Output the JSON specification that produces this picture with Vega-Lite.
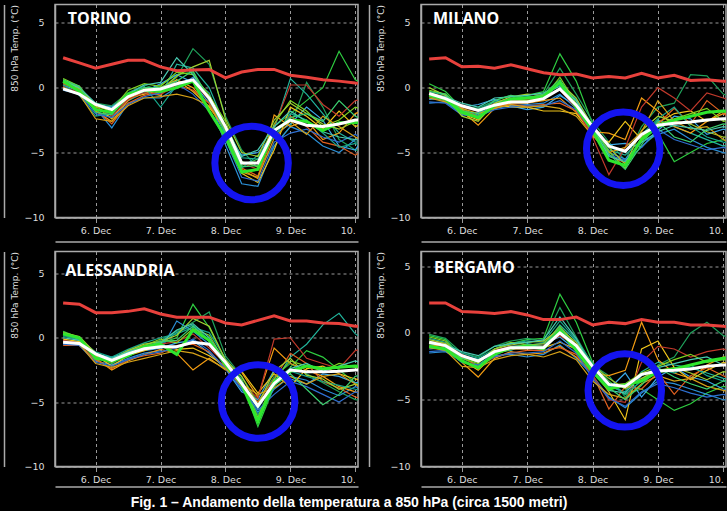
{
"$schema":"https://vega.github.io/schema/vega-lite/v6.json",
"background":"black",
"padding":{"left":3,"top":3.5,"right":0,"bottom":0},
"title":{"text":"Fig. 1 – Andamento della temperatura a 850 hPa (circa 1500 metri)","orient":"bottom","anchor":"middle","dx":-16,"offset":9,"font":"Liberation Sans","fontSize":14,"fontWeight":"bold","color":"white"},
"config":{"view":{"stroke":"#aaa","strokeWidth":1.5},
 "axis":{"labelColor":"#ddd","labelFont":"DejaVu Sans","labelFontSize":9.5,"titleColor":"#ddd","titleFont":"DejaVu Sans","titleFontSize":9,"titleFontWeight":"normal","domainColor":"#aaa","domainWidth":1.5,"gridColor":"#999","gridDash":[3,3],"gridWidth":1,"tickColor":"#999","labelFlush":false},
 "text":{"font":"Open Sans","fontSize":16,"fontWeight":"bold","color":"white","align":"left","baseline":"alphabetic"}},
"datasets":{
"TORINO":[
{"t":"2018-12-05T12:00","m1":0.6,"m2":0.3,"m3":0,"m4":-0.2,"m5":0.2,"m6":0.5,"m7":0.4,"m8":0.3,"m9":0.1,"m10":0.2,"m11":0.7,"m12":-0.1,"m13":0.4,"m14":0,"m15":0.5,"m16":0.6,"g":0.5,"w":-0.1,"r":2.3},
{"t":"2018-12-05T18:00","m1":0,"m2":-0.2,"m3":-0.4,"m4":-0.5,"m5":-0.3,"m6":0.1,"m7":0,"m8":-0.2,"m9":-0.4,"m10":-0.6,"m11":0.1,"m12":-0.5,"m13":-0.1,"m14":-0.5,"m15":0,"m16":0.1,"g":-0.3,"w":-0.5,"r":1.9},
{"t":"2018-12-06T00:00","m1":-1.6,"m2":-1.2,"m3":-1.8,"m4":-1.6,"m5":-1.3,"m6":-1.8,"m7":-1.4,"m8":-1.7,"m9":-1.5,"m10":-2.2,"m11":-1.5,"m12":-2.0,"m13":-1.3,"m14":-2.4,"m15":-1.2,"m16":-1.9,"g":-1.7,"w":-1.3,"r":1.5},
{"t":"2018-12-06T06:00","m1":-2.0,"m2":-1.4,"m3":-2.3,"m4":-3.1,"m5":-1.5,"m6":-2.6,"m7":-2.4,"m8":-2.8,"m9":-2.2,"m10":-2.0,"m11":-1.7,"m12":-2.3,"m13":-1.9,"m14":-2.6,"m15":-1.6,"m16":-2.1,"g":-1.9,"w":-1.7,"r":1.8},
{"t":"2018-12-06T12:00","m1":-0.8,"m2":-0.4,"m3":-1.0,"m4":-1.2,"m5":-0.6,"m6":-1.0,"m7":-0.8,"m8":-1.2,"m9":-0.9,"m10":-0.5,"m11":-0.2,"m12":-1.3,"m13":-0.7,"m14":-1.4,"m15":-0.5,"m16":-0.6,"g":-0.5,"w":-0.7,"r":2.1},
{"t":"2018-12-06T18:00","m1":-0.3,"m2":0.2,"m3":-0.4,"m4":-0.8,"m5":-0.3,"m6":-0.2,"m7":-0.5,"m8":-0.6,"m9":-0.4,"m10":0.1,"m11":0.3,"m12":-0.7,"m13":0,"m14":-0.8,"m15":0.2,"m16":0,"g":-0.2,"w":-0.2,"r":2.1},
{"t":"2018-12-07T00:00","m1":0.2,"m2":-0.2,"m3":-0.6,"m4":-0.8,"m5":0.3,"m6":-0.6,"m7":0,"m8":-0.3,"m9":-0.5,"m10":-1.5,"m11":0.1,"m12":-0.4,"m13":-0.2,"m14":-0.7,"m15":0.4,"m16":0,"g":-0.3,"w":-0.1,"r":1.6},
{"t":"2018-12-07T06:00","m1":1.0,"m2":0.8,"m3":1.8,"m4":0,"m5":1.0,"m6":0.6,"m7":0.6,"m8":0.2,"m9":0.1,"m10":0.2,"m11":1.2,"m12":0.3,"m13":0.9,"m14":-0.5,"m15":2.3,"m16":0.5,"g":0,"w":0.3,"r":1.3},
{"t":"2018-12-07T12:00","m1":1.2,"m2":3.0,"m3":1.5,"m4":0.8,"m5":0.4,"m6":0,"m7":-0.3,"m8":-0.2,"m9":0.5,"m10":0.6,"m11":1.0,"m12":-0.5,"m13":1.6,"m14":-0.8,"m15":1.0,"m16":1.3,"g":0.5,"w":0.6,"r":1.35},
{"t":"2018-12-07T18:00","m1":-1.0,"m2":1.8,"m3":0,"m4":-0.8,"m5":-1.2,"m6":-1.5,"m7":-1.5,"m8":-1.2,"m9":-1.0,"m10":-0.4,"m11":-0.6,"m12":-1.8,"m13":2.1,"m14":-1.4,"m15":-1.0,"m16":-0.9,"g":-1.8,"w":-0.8,"r":1.4},
{"t":"2018-12-08T00:00","m1":-3.5,"m2":-2.2,"m3":-3.0,"m4":-4.4,"m5":-3.6,"m6":-3.2,"m7":-3.0,"m8":-3.3,"m9":-3.1,"m10":-3.8,"m11":-2.6,"m12":-4.0,"m13":-2.4,"m14":-3.3,"m15":-3.0,"m16":-3.4,"g":-3.8,"w":-3.0,"r":0.75},
{"t":"2018-12-08T06:00","m1":-6.0,"m2":-4.8,"m3":-5.4,"m4":-7.4,"m5":-5.2,"m6":-6.3,"m7":-6.6,"m8":-6.2,"m9":-5.8,"m10":-6.2,"m11":-5.7,"m12":-6.9,"m13":-5.0,"m14":-6.5,"m15":-5.3,"m16":-6.1,"g":-6.5,"w":-5.8,"r":1.2},
{"t":"2018-12-08T12:00","m1":-5.5,"m2":-6.2,"m3":-5.5,"m4":-7.6,"m5":-5.0,"m6":-7.0,"m7":-7.3,"m8":-6.8,"m9":-6.3,"m10":-5.2,"m11":-6.1,"m12":-7.2,"m13":-5.3,"m14":-6.9,"m15":-4.8,"m16":-6.0,"g":-6.3,"w":-5.8,"r":1.4},
{"t":"2018-12-08T18:00","m1":-3.0,"m2":-4.5,"m3":-3.2,"m4":-4.5,"m5":-3.6,"m6":-2.1,"m7":-4.8,"m8":-3.5,"m9":-3.0,"m10":-3.8,"m11":-2.8,"m12":-4.2,"m13":-2.5,"m14":-3.9,"m15":-3.0,"m16":-3.4,"g":-3.3,"w":-3.3,"r":1.4},
{"t":"2018-12-09T00:00","m1":-2.0,"m2":-3.0,"m3":0.7,"m4":-3.0,"m5":-2.8,"m6":-3.0,"m7":-1.5,"m8":-2.2,"m9":0.2,"m10":-2.0,"m11":-1.0,"m12":-3.5,"m13":-1.2,"m14":-2.6,"m15":-1.8,"m16":-2.3,"g":-2.5,"w":-2.5,"r":0.95},
{"t":"2018-12-09T06:00","m1":-1.0,"m2":0.4,"m3":-0.5,"m4":-3.5,"m5":-1.5,"m6":-2.5,"m7":-2.2,"m8":-3.0,"m9":0.2,"m10":-2.5,"m11":-1.8,"m12":-3.2,"m13":-2.0,"m14":-3.6,"m15":-2.6,"m16":-2.0,"g":-2.6,"w":-2.9,"r":0.8},
{"t":"2018-12-09T12:00","m1":0,"m2":-1.5,"m3":-2.0,"m4":-4.5,"m5":-2.5,"m6":-4.0,"m7":-3.2,"m8":-4.2,"m9":-1.3,"m10":-3.5,"m11":-3.0,"m12":-3.8,"m13":-2.8,"m14":-2.2,"m15":-3.4,"m16":-2.6,"g":-3.3,"w":-3.0,"r":0.6},
{"t":"2018-12-09T18:00","m1":2.8,"m2":-4.0,"m3":-3.5,"m4":-5.0,"m5":-4.5,"m6":-3.5,"m7":-1.8,"m8":-4.5,"m9":-2.2,"m10":-4.6,"m11":-2.5,"m12":-4.2,"m13":-3.2,"m14":-3.0,"m15":-3.8,"m16":-1.0,"g":-2.7,"w":-2.8,"r":0.5},
{"t":"2018-12-10T00:00","m1":0.6,"m2":-4.8,"m3":-4.2,"m4":-4.0,"m5":-4.8,"m6":-2.0,"m7":-3.0,"m8":-5.2,"m9":-1.0,"m10":-4.3,"m11":-1.5,"m12":-3.6,"m13":-2.6,"m14":-3.8,"m15":-4.0,"m16":-2.2,"g":-2.7,"w":-2.5,"r":0.35},
{"t":"2018-12-10T06:00","m1":0,"m2":-5.0,"m3":-4.0,"m4":-3.5,"m5":-3.0,"m6":-1.5,"m7":-2.5,"m8":-4.5,"m9":-0.8,"m10":-4.8,"m11":-2.0,"m12":-4.3,"m13":-3.2,"m14":-4.5,"m15":-4.2,"m16":-2.8,"g":-2.6,"w":-2.5,"r":0.3}
],
"MILANO":[
{"t":"2018-12-05T12:00","m1":0.3,"m2":-0.6,"m3":-0.8,"m4":-1.2,"m5":-0.9,"m6":-0.4,"m7":-0.5,"m8":-0.7,"m9":-0.6,"m10":-0.3,"m11":-0.2,"m12":-1.1,"m13":0,"m14":-0.8,"m15":-0.5,"m16":-0.3,"g":-0.6,"w":-0.45,"r":2.2},
{"t":"2018-12-05T18:00","m1":-0.3,"m2":-0.9,"m3":-1.0,"m4":-1.1,"m5":-0.8,"m6":-0.7,"m7":-0.9,"m8":-1.0,"m9":-0.8,"m10":-0.6,"m11":-0.5,"m12":-1.2,"m13":-0.6,"m14":-1.1,"m15":-0.7,"m16":-0.5,"g":-0.9,"w":-0.85,"r":2.3},
{"t":"2018-12-06T00:00","m1":-1.6,"m2":-1.4,"m3":-1.9,"m4":-2.0,"m5":-1.5,"m6":-1.8,"m7":-2.0,"m8":-1.7,"m9":-1.5,"m10":-1.4,"m11":-1.7,"m12":-2.1,"m13":-2.2,"m14":-1.6,"m15":-1.2,"m16":-1.8,"g":-1.9,"w":-1.4,"r":1.6},
{"t":"2018-12-06T06:00","m1":-2.2,"m2":-1.6,"m3":-2.1,"m4":-1.9,"m5":-1.3,"m6":-2.9,"m7":-2.5,"m8":-2.2,"m9":-1.8,"m10":-1.7,"m11":-2.4,"m12":-2.2,"m13":-2.6,"m14":-2.0,"m15":-1.5,"m16":-2.0,"g":-2.3,"w":-1.75,"r":1.65},
{"t":"2018-12-06T12:00","m1":-1.2,"m2":-1.0,"m3":-1.4,"m4":-1.6,"m5":-0.9,"m6":-1.6,"m7":-1.3,"m8":-1.5,"m9":-1.2,"m10":-1.1,"m11":-1.3,"m12":-1.7,"m13":-1.2,"m14":-1.6,"m15":-0.8,"m16":-1.0,"g":-1.4,"w":-1.35,"r":1.5},
{"t":"2018-12-06T18:00","m1":-0.8,"m2":-0.6,"m3":-1.2,"m4":-1.4,"m5":-1.4,"m6":-1.2,"m7":-1.5,"m8":-1.3,"m9":-1.0,"m10":-0.9,"m11":-0.9,"m12":-1.5,"m13":-0.7,"m14":-1.3,"m15":-0.7,"m16":-0.6,"g":-0.9,"w":-1.1,"r":1.75},
{"t":"2018-12-07T00:00","m1":-0.6,"m2":-1.0,"m3":-0.8,"m4":-1.3,"m5":-1.7,"m6":-1.2,"m7":-1.5,"m8":-1.4,"m9":-0.9,"m10":-0.7,"m11":-1.0,"m12":-1.4,"m13":-0.5,"m14":-1.5,"m15":-0.6,"m16":-0.8,"g":-0.8,"w":-1.1,"r":1.45},
{"t":"2018-12-07T06:00","m1":-0.3,"m2":-0.5,"m3":-1.0,"m4":-1.2,"m5":-1.5,"m6":-1.0,"m7":-1.8,"m8":-1.3,"m9":-0.6,"m10":-0.7,"m11":-0.8,"m12":-1.4,"m13":-0.6,"m14":-1.4,"m15":-0.4,"m16":-0.5,"g":-0.7,"w":-0.85,"r":1.15},
{"t":"2018-12-07T12:00","m1":2.6,"m2":1.5,"m3":0.5,"m4":-0.5,"m5":-0.6,"m6":-0.8,"m7":-1.8,"m8":-1.2,"m9":-0.2,"m10":0.2,"m11":0.8,"m12":-1.0,"m13":0.4,"m14":-1.6,"m15":0.1,"m16":0.6,"g":0.4,"w":-0.1,"r":1.0},
{"t":"2018-12-07T18:00","m1":0.5,"m2":-0.5,"m3":-1.0,"m4":-1.6,"m5":-1.4,"m6":-1.9,"m7":-2.0,"m8":-1.8,"m9":-1.6,"m10":-0.9,"m11":-1.2,"m12":-1.7,"m13":-0.8,"m14":-2.2,"m15":-1.0,"m16":-1.3,"g":-1.5,"w":-1.35,"r":1.05},
{"t":"2018-12-08T00:00","m1":-2.8,"m2":-2.6,"m3":-3.2,"m4":-3.5,"m5":-3.3,"m6":-3.4,"m7":-3.6,"m8":-3.6,"m9":-3.8,"m10":-2.9,"m11":-3.0,"m12":-3.4,"m13":-3.0,"m14":-3.7,"m15":-3.1,"m16":-2.9,"g":-3.3,"w":-3.0,"r":0.75},
{"t":"2018-12-08T06:00","m1":-5.5,"m2":-4.2,"m3":-4.8,"m4":-5.0,"m5":-4.4,"m6":-3.5,"m7":-4.2,"m8":-5.2,"m9":-6.7,"m10":-4.6,"m11":-4.9,"m12":-5.2,"m13":-4.6,"m14":-5.0,"m15":-5.3,"m16":-5.1,"g":-5.6,"w":-4.5,"r":0.85},
{"t":"2018-12-08T12:00","m1":-6.0,"m2":-5.6,"m3":-5.2,"m4":-5.5,"m5":-4.3,"m6":-4.0,"m7":-2.6,"m8":-5.8,"m9":-4.6,"m10":-5.0,"m11":-6.2,"m12":-5.6,"m13":-5.9,"m14":-4.6,"m15":-5.7,"m16":-6.3,"g":-6.0,"w":-4.9,"r":0.75},
{"t":"2018-12-08T18:00","m1":-4.5,"m2":-3.0,"m3":-4.0,"m4":-4.2,"m5":-4.6,"m6":-0.8,"m7":-4.0,"m8":-4.1,"m9":-1.5,"m10":-3.6,"m11":-3.8,"m12":-4.6,"m13":-3.3,"m14":-3.4,"m15":-4.2,"m16":-4.4,"g":-4.0,"w":-3.6,"r":1.1},
{"t":"2018-12-09T00:00","m1":-3.5,"m2":-1.5,"m3":-2.5,"m4":-3.6,"m5":-3.3,"m6":-1.8,"m7":-2.7,"m8":-2.8,"m9":0,"m10":-2.4,"m11":-2.8,"m12":-3.2,"m13":-2.2,"m14":-1.0,"m15":-3.4,"m16":-2.6,"g":-3.0,"w":-2.9,"r":0.75},
{"t":"2018-12-09T06:00","m1":-5.7,"m2":-1.2,"m3":-3.0,"m4":-3.2,"m5":-2.2,"m6":-3.0,"m7":-2.0,"m8":-1.6,"m9":-0.8,"m10":-1.5,"m11":-2.4,"m12":-4.0,"m13":-2.6,"m14":-2.6,"m15":-2.9,"m16":-3.8,"g":-2.5,"w":-2.75,"r":0.95},
{"t":"2018-12-09T12:00","m1":-5.0,"m2":1.0,"m3":-3.5,"m4":-4.0,"m5":-2.4,"m6":-3.5,"m7":-1.8,"m8":-2.8,"m9":-1.8,"m10":-3.0,"m11":-2.0,"m12":-4.4,"m13":-2.8,"m14":-3.2,"m15":-3.1,"m16":-4.2,"g":-2.2,"w":-2.65,"r":0.55},
{"t":"2018-12-09T18:00","m1":-4.3,"m2":0.9,"m3":-4.0,"m4":-4.6,"m5":-3.6,"m6":-2.6,"m7":-2.6,"m8":-1.0,"m9":-0.4,"m10":-3.8,"m11":-1.6,"m12":-4.8,"m13":-3.4,"m14":-3.0,"m15":-3.3,"m16":-3.2,"g":-1.9,"w":-2.5,"r":0.6},
{"t":"2018-12-10T00:00","m1":-4.0,"m2":-0.5,"m3":-4.5,"m4":-5.0,"m5":-3.2,"m6":-2.0,"m7":-1.8,"m8":-2.0,"m9":-0.8,"m10":-4.2,"m11":-2.6,"m12":-4.6,"m13":-3.8,"m14":-4.0,"m15":-3.0,"m16":-2.8,"g":-1.8,"w":-2.4,"r":0.5},
{"t":"2018-12-10T06:00","m1":-4.5,"m2":-1.0,"m3":-4.2,"m4":-5.2,"m5":-3.5,"m6":-1.7,"m7":-1.9,"m8":-2.8,"m9":-1.2,"m10":-4.4,"m11":-2.4,"m12":-5.0,"m13":-3.9,"m14":-4.5,"m15":-3.3,"m16":-3.0,"g":-1.9,"w":-2.4,"r":0.45}
],
"ALESSANDRIA":[
{"t":"2018-12-05T12:00","m1":0.5,"m2":0.2,"m3":-0.2,"m4":-0.5,"m5":-0.4,"m6":-0.3,"m7":-0.1,"m8":-0.6,"m9":-0.2,"m10":0.1,"m11":0.3,"m12":-0.5,"m13":0.4,"m14":-0.3,"m15":0,"m16":0.3,"g":0.3,"w":-0.35,"r":2.7},
{"t":"2018-12-05T18:00","m1":0,"m2":-0.2,"m3":-0.3,"m4":-0.5,"m5":-0.5,"m6":-0.4,"m7":-0.3,"m8":-0.6,"m9":-0.4,"m10":-0.1,"m11":0,"m12":-0.6,"m13":0.1,"m14":-0.5,"m15":-0.2,"m16":-0.1,"g":0,"w":-0.45,"r":2.6},
{"t":"2018-12-06T00:00","m1":-1.5,"m2":-1.2,"m3":-1.4,"m4":-1.8,"m5":-1.3,"m6":-1.6,"m7":-1.4,"m8":-1.7,"m9":-1.5,"m10":-1.1,"m11":-1.3,"m12":-1.9,"m13":-1.2,"m14":-2.0,"m15":-1.3,"m16":-1.5,"g":-1.6,"w":-1.25,"r":1.95},
{"t":"2018-12-06T06:00","m1":-2.0,"m2":-1.6,"m3":-1.8,"m4":-2.1,"m5":-1.5,"m6":-2.5,"m7":-2.2,"m8":-2.4,"m9":-1.9,"m10":-1.5,"m11":-1.9,"m12":-2.2,"m13":-1.7,"m14":-2.3,"m15":-1.6,"m16":-1.7,"g":-1.8,"w":-1.75,"r":1.95},
{"t":"2018-12-06T12:00","m1":-1.3,"m2":-1.0,"m3":-1.4,"m4":-1.6,"m5":-1.2,"m6":-1.8,"m7":-1.4,"m8":-1.7,"m9":-1.3,"m10":-0.9,"m11":-1.1,"m12":-1.7,"m13":-1.0,"m14":-1.9,"m15":-1.1,"m16":-1.2,"g":-1.4,"w":-1.25,"r":2.05},
{"t":"2018-12-06T18:00","m1":-0.8,"m2":-0.6,"m3":-0.9,"m4":-1.2,"m5":-1.0,"m6":-1.3,"m7":-1.0,"m8":-1.4,"m9":-0.8,"m10":-0.4,"m11":-0.6,"m12":-1.3,"m13":-0.5,"m14":-1.6,"m15":-0.7,"m16":-0.7,"g":-0.7,"w":-0.85,"r":2.25},
{"t":"2018-12-07T00:00","m1":-0.4,"m2":-0.2,"m3":-0.5,"m4":-1.0,"m5":-0.8,"m6":-0.9,"m7":-0.6,"m8":-1.2,"m9":-0.5,"m10":0,"m11":-0.1,"m12":-1.1,"m13":-0.3,"m14":-1.3,"m15":-0.4,"m16":-0.3,"g":-0.5,"w":-0.7,"r":1.85},
{"t":"2018-12-07T06:00","m1":0,"m2":0.5,"m3":0.4,"m4":1.3,"m5":-0.4,"m6":-1.2,"m7":-0.9,"m8":-0.6,"m9":-0.3,"m10":0.3,"m11":-0.4,"m12":-0.8,"m13":0.2,"m14":-1.0,"m15":0.6,"m16":-0.2,"g":-1.3,"w":-0.7,"r":1.6},
{"t":"2018-12-07T12:00","m1":2.6,"m2":1.2,"m3":1.0,"m4":0.5,"m5":-0.2,"m6":-2.5,"m7":-0.8,"m8":-0.5,"m9":0.3,"m10":0.8,"m11":0.7,"m12":-0.1,"m13":1.5,"m14":-1.2,"m15":1.1,"m16":0.9,"g":0.6,"w":-0.35,"r":1.6},
{"t":"2018-12-07T18:00","m1":0.8,"m2":2.0,"m3":-0.2,"m4":-0.5,"m5":-1.2,"m6":-1.6,"m7":-1.4,"m8":-1.1,"m9":-0.8,"m10":0.4,"m11":0.2,"m12":-1.0,"m13":0.9,"m14":-1.7,"m15":0,"m16":-0.3,"g":-0.2,"w":-0.5,"r":1.6},
{"t":"2018-12-08T00:00","m1":-1.8,"m2":-1.4,"m3":-2.0,"m4":-2.2,"m5":-2.4,"m6":-2.5,"m7":-2.2,"m8":-2.3,"m9":-2.0,"m10":-1.6,"m11":-1.9,"m12":-2.4,"m13":-1.7,"m14":-2.4,"m15":-1.9,"m16":-2.0,"g":-2.1,"w":-1.9,"r":1.15},
{"t":"2018-12-08T06:00","m1":-3.4,"m2":-3.0,"m3":-3.6,"m4":-3.9,"m5":-4.2,"m6":-2.7,"m7":-2.6,"m8":-3.8,"m9":-3.5,"m10":-3.2,"m11":-3.3,"m12":-4.0,"m13":-3.0,"m14":-3.6,"m15":-3.4,"m16":-3.7,"g":-3.6,"w":-3.55,"r":1.0},
{"t":"2018-12-08T12:00","m1":-6.9,"m2":-5.0,"m3":-5.5,"m4":-5.8,"m5":-4.8,"m6":-4.6,"m7":-4.3,"m8":-5.0,"m9":-4.7,"m10":-6.0,"m11":-6.2,"m12":-5.6,"m13":-5.2,"m14":-4.4,"m15":-5.4,"m16":-6.4,"g":-6.5,"w":-5.3,"r":1.35},
{"t":"2018-12-08T18:00","m1":-3.8,"m2":-3.0,"m3":-3.5,"m4":-4.0,"m5":-2.5,"m6":-0.8,"m7":-2.8,"m8":-3.2,"m9":-0.1,"m10":-3.6,"m11":-3.2,"m12":-4.4,"m13":-2.6,"m14":-3.9,"m15":-3.3,"m16":-3.7,"g":-3.4,"w":-3.55,"r":1.7},
{"t":"2018-12-09T00:00","m1":-2.3,"m2":-2.0,"m3":-1.5,"m4":-3.0,"m5":-3.2,"m6":-2.0,"m7":-3.8,"m8":-1.2,"m9":0,"m10":-2.6,"m11":-1.8,"m12":-3.4,"m13":-1.6,"m14":-3.0,"m15":-2.4,"m16":-2.8,"g":-2.6,"w":-2.5,"r":1.3},
{"t":"2018-12-09T06:00","m1":-1.0,"m2":-2.8,"m3":-0.5,"m4":-3.3,"m5":-3.6,"m6":-2.5,"m7":-2.4,"m8":-2.0,"m9":-1.6,"m10":-3.0,"m11":-2.2,"m12":-3.8,"m13":-2.9,"m14":-3.6,"m15":-2.0,"m16":-4.0,"g":-2.2,"w":-2.65,"r":1.3},
{"t":"2018-12-09T12:00","m1":-1.5,"m2":-3.5,"m3":1.0,"m4":-4.0,"m5":-2.8,"m6":-3.0,"m7":-2.2,"m8":-3.4,"m9":-2.0,"m10":-3.4,"m11":-2.6,"m12":-4.4,"m13":-3.2,"m14":-3.0,"m15":-2.6,"m16":-5.2,"g":-2.4,"w":-2.65,"r":1.15},
{"t":"2018-12-09T18:00","m1":-2.5,"m2":-4.2,"m3":1.9,"m4":-4.5,"m5":-3.0,"m6":-3.8,"m7":-2.8,"m8":-3.9,"m9":-2.4,"m10":-3.7,"m11":-2.0,"m12":-5.0,"m13":-4.0,"m14":-2.8,"m15":-2.2,"m16":-4.4,"g":-2.3,"w":-2.6,"r":1.1},
{"t":"2018-12-10T00:00","m1":-3.5,"m2":-4.8,"m3":0.3,"m4":-3.8,"m5":-3.5,"m6":-4.2,"m7":-3.2,"m8":-4.6,"m9":-1.0,"m10":-4.0,"m11":-2.3,"m12":-4.2,"m13":-3.6,"m14":-3.6,"m15":-1.8,"m16":-3.0,"g":-2.2,"w":-2.5,"r":0.9},
{"t":"2018-12-10T06:00","m1":-3.8,"m2":-5.0,"m3":-0.5,"m4":-4.2,"m5":-3.3,"m6":-4.5,"m7":-3.5,"m8":-4.9,"m9":-0.6,"m10":-4.3,"m11":-2.5,"m12":-4.6,"m13":-3.9,"m14":-4.6,"m15":-2.2,"m16":-2.7,"g":-2.3,"w":-2.5,"r":0.85}
],
"BERGAMO":[
{"t":"2018-12-05T12:00","m1":-0.2,"m2":-0.1,"m3":-0.8,"m4":-1.5,"m5":-1.2,"m6":-0.9,"m7":-0.7,"m8":-1.0,"m9":-0.6,"m10":-0.4,"m11":-0.3,"m12":-1.4,"m13":-0.5,"m14":-1.1,"m15":-0.8,"m16":-0.6,"g":-1.0,"w":-0.7,"r":2.25},
{"t":"2018-12-05T18:00","m1":-0.5,"m2":-0.4,"m3":-1.0,"m4":-1.4,"m5":-1.1,"m6":-1.0,"m7":-0.9,"m8":-1.2,"m9":-0.8,"m10":-0.7,"m11":-0.6,"m12":-1.3,"m13":-0.8,"m14":-1.3,"m15":-0.9,"m16":-1.0,"g":-1.2,"w":-0.95,"r":2.25},
{"t":"2018-12-06T00:00","m1":-1.8,"m2":-1.5,"m3":-1.9,"m4":-2.1,"m5":-1.7,"m6":-2.2,"m7":-2.0,"m8":-1.8,"m9":-1.6,"m10":-1.5,"m11":-1.9,"m12":-2.2,"m13":-1.7,"m14":-2.5,"m15":-1.4,"m16":-1.9,"g":-2.1,"w":-1.7,"r":1.6},
{"t":"2018-12-06T06:00","m1":-2.2,"m2":-1.8,"m3":-2.4,"m4":-2.6,"m5":-2.0,"m6":-3.3,"m7":-2.8,"m8":-2.5,"m9":-2.1,"m10":-1.9,"m11":-2.3,"m12":-2.4,"m13":-2.2,"m14":-2.6,"m15":-1.7,"m16":-2.0,"g":-2.6,"w":-2.1,"r":1.55},
{"t":"2018-12-06T12:00","m1":-1.2,"m2":-1.0,"m3":-1.5,"m4":-1.7,"m5":-1.4,"m6":-1.9,"m7":-1.6,"m8":-1.8,"m9":-1.3,"m10":-1.2,"m11":-1.2,"m12":-1.8,"m13":-1.2,"m14":-2.0,"m15":-1.0,"m16":-1.4,"g":-1.6,"w":-1.4,"r":1.45},
{"t":"2018-12-06T18:00","m1":-0.8,"m2":-0.6,"m3":-1.3,"m4":-1.6,"m5":-1.0,"m6":-1.4,"m7":-1.2,"m8":-1.5,"m9":-1.0,"m10":-0.8,"m11":-0.7,"m12":-1.5,"m13":-0.9,"m14":-1.7,"m15":-0.8,"m16":-1.1,"g":-1.1,"w":-1.1,"r":1.6},
{"t":"2018-12-07T00:00","m1":-0.5,"m2":-0.4,"m3":-0.8,"m4":-1.8,"m5":-0.9,"m6":-1.6,"m7":-1.2,"m8":-1.3,"m9":-1.0,"m10":-0.6,"m11":-0.9,"m12":-1.5,"m13":-0.7,"m14":-1.6,"m15":-0.7,"m16":-0.9,"g":-1.0,"w":-1.1,"r":1.35},
{"t":"2018-12-07T06:00","m1":-0.4,"m2":-0.6,"m3":-1.0,"m4":-1.6,"m5":-0.8,"m6":-1.5,"m7":-1.1,"m8":-1.3,"m9":-0.9,"m10":-0.7,"m11":-0.8,"m12":-1.4,"m13":-0.6,"m14":-1.8,"m15":-0.5,"m16":-1.0,"g":-1.2,"w":-1.1,"r":1.0},
{"t":"2018-12-07T12:00","m1":2.9,"m2":1.9,"m3":0.6,"m4":-0.9,"m5":-0.3,"m6":-1.0,"m7":-0.7,"m8":-1.1,"m9":-0.2,"m10":0.9,"m11":0.5,"m12":-0.6,"m13":0.3,"m14":-1.4,"m15":1.2,"m16":0.4,"g":0.2,"w":0,"r":1.0},
{"t":"2018-12-07T18:00","m1":0.8,"m2":-0.3,"m3":-0.6,"m4":-1.9,"m5":-1.3,"m6":-1.8,"m7":-1.2,"m8":-1.6,"m9":-1.0,"m10":-0.5,"m11":-0.9,"m12":-1.5,"m13":-0.7,"m14":-2.0,"m15":-0.4,"m16":-1.1,"g":-1.3,"w":-0.95,"r":1.2},
{"t":"2018-12-08T00:00","m1":-2.2,"m2":-2.4,"m3":-2.6,"m4":-3.2,"m5":-2.9,"m6":-3.0,"m7":-2.8,"m8":-3.1,"m9":-3.2,"m10":-2.3,"m11":-2.6,"m12":-3.4,"m13":-2.4,"m14":-3.6,"m15":-2.7,"m16":-2.8,"g":-2.9,"w":-2.5,"r":0.6},
{"t":"2018-12-08T06:00","m1":-3.6,"m2":-3.2,"m3":-4.0,"m4":-4.8,"m5":-4.2,"m6":-3.2,"m7":-4.4,"m8":-5.7,"m9":-5.0,"m10":-3.8,"m11":-3.9,"m12":-4.9,"m13":-3.4,"m14":-4.6,"m15":-4.3,"m16":-4.1,"g":-4.2,"w":-3.85,"r":0.8},
{"t":"2018-12-08T12:00","m1":-4.6,"m2":-4.8,"m3":-4.4,"m4":-5.6,"m5":-3.0,"m6":-2.8,"m7":-6.5,"m8":-4.0,"m9":-5.2,"m10":-4.6,"m11":-3.8,"m12":-5.5,"m13":-4.2,"m14":-4.9,"m15":-4.5,"m16":-5.0,"g":-3.9,"w":-4.0,"r":0.7},
{"t":"2018-12-08T18:00","m1":-4.2,"m2":-3.5,"m3":-2.9,"m4":-4.5,"m5":-4.8,"m6":0.8,"m7":-1.2,"m8":-4.2,"m9":-2.2,"m10":-3.6,"m11":-3.0,"m12":-4.4,"m13":-3.4,"m14":-3.8,"m15":-3.2,"m16":-3.9,"g":-3.6,"w":-3.1,"r":1.0},
{"t":"2018-12-09T00:00","m1":-5.0,"m2":-2.4,"m3":-2.2,"m4":-3.6,"m5":-3.3,"m6":-2.0,"m7":-0.6,"m8":-3.0,"m9":-1.0,"m10":-2.7,"m11":-2.5,"m12":-3.8,"m13":-2.8,"m14":-3.2,"m15":-2.6,"m16":-2.6,"g":-2.9,"w":-2.85,"r":0.8},
{"t":"2018-12-09T06:00","m1":-5.8,"m2":-1.8,"m3":-2.4,"m4":-3.8,"m5":-2.6,"m6":-3.0,"m7":-2.6,"m8":-4.6,"m9":-1.2,"m10":-3.0,"m11":-2.0,"m12":-4.1,"m13":-2.6,"m14":-3.6,"m15":-2.3,"m16":-3.3,"g":-2.7,"w":-2.8,"r":0.8},
{"t":"2018-12-09T12:00","m1":-5.3,"m2":0,"m3":-2.6,"m4":-4.2,"m5":-3.3,"m6":-3.4,"m7":-3.5,"m8":-3.2,"m9":-1.8,"m10":-2.4,"m11":-1.6,"m12":-4.5,"m13":-3.0,"m14":-3.4,"m15":-2.0,"m16":-3.8,"g":-2.4,"w":-2.7,"r":0.6},
{"t":"2018-12-09T18:00","m1":-4.5,"m2":0.8,"m3":-3.0,"m4":-4.6,"m5":-3.6,"m6":-2.4,"m7":-2.8,"m8":-2.6,"m9":-1.4,"m10":-3.2,"m11":-2.2,"m12":-4.8,"m13":-3.5,"m14":-4.0,"m15":-1.8,"m16":-4.2,"g":-2.1,"w":-2.5,"r":0.6},
{"t":"2018-12-10T00:00","m1":-4.0,"m2":-0.2,"m3":-3.4,"m4":-5.0,"m5":-4.2,"m6":-1.8,"m7":-2.2,"m8":-3.2,"m9":-1.2,"m10":-3.6,"m11":-2.0,"m12":-4.6,"m13":-2.9,"m14":-4.3,"m15":-2.4,"m16":-3.6,"g":-1.9,"w":-2.4,"r":0.5},
{"t":"2018-12-10T06:00","m1":-4.2,"m2":-0.5,"m3":-3.6,"m4":-5.0,"m5":-4.4,"m6":-2.0,"m7":-2.6,"m8":-3.8,"m9":-1.6,"m10":-4.0,"m11":-2.1,"m12":-4.9,"m13":-3.1,"m14":-4.6,"m15":-2.7,"m16":-3.4,"g":-1.8,"w":-2.4,"r":0.45}
],
"circ":[
{"c":"TORINO","t":"2018-12-08T09:40","v":-5.8},
{"c":"MILANO","t":"2018-12-08T11:15","v":-4.7},
{"c":"ALESSANDRIA","t":"2018-12-08T12:05","v":-4.95},
{"c":"BERGAMO","t":"2018-12-08T11:50","v":-4.3}
]
},
"vconcat":[
{"hconcat":[
{"width":303,"height":213,"data":{"name":"TORINO"},
 "resolve":{"axis":{"x":"independent","y":"independent"}},
 "layer":[
  {"transform":[{"fold":["m1","m2","m3","m4","m5","m6","m7","m8","m9","m10","m11","m12","m13","m14","m15","m16"]}],
   "mark":{"type":"line","strokeWidth":1.2,"clip":true},
   "encoding":{
    "x":{"field":"t","type":"temporal","scale":{"domain":[{"year":2018,"month":12,"date":5,"hours":9},{"year":2018,"month":12,"date":10,"hours":1}]},
         "axis":{"values":[{"year":2018,"month":12,"date":6},{"year":2018,"month":12,"date":7},{"year":2018,"month":12,"date":8},{"year":2018,"month":12,"date":9},{"year":2018,"month":12,"date":10}],
          "labelExpr":"date(datum.value)==10 ? '10.' : timeFormat(datum.value, '%-d. %b')",
          "labelAlign":{"condition":{"test":"date(datum.value)==10","value":"right"},"value":"center"},
          "title":null,"grid":true,"ticks":true,"tickSize":5,"labelPadding":3,"labelOverlap":false}},
    "y":{"field":"value","type":"quantitative","scale":{"domain":[-10,6.4],"nice":false,"zero":false},
         "axis":{"values":[-10,-5,0,5],"title":"850 hPa Temp. (°C)","titleAnchor":"end","titlePadding":4,"ticks":false,"labelPadding":11,"grid":true}},
    "color":{"field":"key","type":"nominal","legend":null,
      "scale":{"domain":["m1","m2","m3","m4","m5","m6","m7","m8","m9","m10","m11","m12","m13","m14","m15","m16"],
               "range":["#2ecc40","#1fa05a","#21b39b","#2b8fd6","#3aa8e8","#f39c12","#f0c419","#e06020","#c0392b","#17a589","#7ed321","#2e6fd0","#a0d030","#d4a017","#48c9b0","#3cd070"]}}}},
  {"mark":{"type":"line","strokeWidth":3,"color":"#2ee62e","clip":true},
   "encoding":{"x":{"field":"t","type":"temporal","axis":null},"y":{"field":"g","type":"quantitative","axis":null}}},
  {"mark":{"type":"line","strokeWidth":3,"color":"white","clip":true},
   "encoding":{"x":{"field":"t","type":"temporal","axis":null},"y":{"field":"w","type":"quantitative","axis":null}}},
  {"mark":{"type":"line","strokeWidth":3,"color":"#e8413c","clip":true},
   "encoding":{"x":{"field":"t","type":"temporal","axis":{"orient":"bottom","offset":24,"domain":true,"labels":false,"ticks":false,"grid":false,"title":null}},
               "y":{"field":"r","type":"quantitative","axis":{"orient":"left","offset":51,"domain":true,"labels":false,"ticks":false,"grid":false,"title":null}}}},
  {"data":{"name":"circ"},"transform":[{"filter":"datum.c==='TORINO'"}],
   "mark":{"type":"point","shape":"circle","filled":false,"size":5400,"stroke":"#1414f0","strokeWidth":7,"opacity":1},
   "encoding":{"x":{"field":"t","type":"temporal","axis":null},"y":{"field":"v","type":"quantitative","axis":null}}},
  {"data":{"values":[{}]},"mark":{"type":"text"},
   "encoding":{"x":{"datum":{"year":2018,"month":12,"date":5,"hours":13,"minutes":40},"type":"temporal","axis":null},"y":{"datum":4.87,"type":"quantitative","axis":null},"text":{"value":"TORINO"}}}
 ]},
{"width":305,"height":213,"data":{"name":"MILANO"},
 "resolve":{"axis":{"x":"independent","y":"independent"}},
 "layer":[
  {"transform":[{"fold":["m1","m2","m3","m4","m5","m6","m7","m8","m9","m10","m11","m12","m13","m14","m15","m16"]}],
   "mark":{"type":"line","strokeWidth":1.2,"clip":true},
   "encoding":{
    "x":{"field":"t","type":"temporal","scale":{"domain":[{"year":2018,"month":12,"date":5,"hours":9},{"year":2018,"month":12,"date":10,"hours":1}]},
         "axis":{"values":[{"year":2018,"month":12,"date":6},{"year":2018,"month":12,"date":7},{"year":2018,"month":12,"date":8},{"year":2018,"month":12,"date":9},{"year":2018,"month":12,"date":10}],
          "labelExpr":"date(datum.value)==10 ? '10.' : timeFormat(datum.value, '%-d. %b')",
          "labelAlign":{"condition":{"test":"date(datum.value)==10","value":"right"},"value":"center"},
          "title":null,"grid":true,"ticks":true,"tickSize":5,"labelPadding":3,"labelOverlap":false}},
    "y":{"field":"value","type":"quantitative","scale":{"domain":[-10,6.4],"nice":false,"zero":false},
         "axis":{"values":[-10,-5,0,5],"title":"850 hPa Temp. (°C)","titleAnchor":"end","titlePadding":4,"ticks":false,"labelPadding":11,"grid":true}},
    "color":{"field":"key","type":"nominal","legend":null,
      "scale":{"domain":["m1","m2","m3","m4","m5","m6","m7","m8","m9","m10","m11","m12","m13","m14","m15","m16"],
               "range":["#2ecc40","#1fa05a","#21b39b","#2b8fd6","#3aa8e8","#f39c12","#f0c419","#e06020","#c0392b","#17a589","#7ed321","#2e6fd0","#a0d030","#d4a017","#48c9b0","#3cd070"]}}}},
  {"mark":{"type":"line","strokeWidth":3,"color":"#2ee62e","clip":true},
   "encoding":{"x":{"field":"t","type":"temporal","axis":null},"y":{"field":"g","type":"quantitative","axis":null}}},
  {"mark":{"type":"line","strokeWidth":3,"color":"white","clip":true},
   "encoding":{"x":{"field":"t","type":"temporal","axis":null},"y":{"field":"w","type":"quantitative","axis":null}}},
  {"mark":{"type":"line","strokeWidth":3,"color":"#e8413c","clip":true},
   "encoding":{"x":{"field":"t","type":"temporal","axis":{"orient":"bottom","offset":24,"domain":true,"labels":false,"ticks":false,"grid":false,"title":null}},
               "y":{"field":"r","type":"quantitative","axis":{"orient":"left","offset":52,"domain":true,"labels":false,"ticks":false,"grid":false,"title":null}}}},
  {"data":{"name":"circ"},"transform":[{"filter":"datum.c==='MILANO'"}],
   "mark":{"type":"point","shape":"circle","filled":false,"size":5400,"stroke":"#1414f0","strokeWidth":7,"opacity":1},
   "encoding":{"x":{"field":"t","type":"temporal","axis":null},"y":{"field":"v","type":"quantitative","axis":null}}},
  {"data":{"values":[{}]},"mark":{"type":"text"},
   "encoding":{"x":{"datum":{"year":2018,"month":12,"date":5,"hours":13,"minutes":25},"type":"temporal","axis":null},"y":{"datum":4.87,"type":"quantitative","axis":null},"text":{"value":"MILANO"}}}
 ]}
],"spacing":9},
{"hconcat":[
{"width":303,"height":215,"data":{"name":"ALESSANDRIA"},
 "resolve":{"axis":{"x":"independent","y":"independent"}},
 "layer":[
  {"transform":[{"fold":["m1","m2","m3","m4","m5","m6","m7","m8","m9","m10","m11","m12","m13","m14","m15","m16"]}],
   "mark":{"type":"line","strokeWidth":1.2,"clip":true},
   "encoding":{
    "x":{"field":"t","type":"temporal","scale":{"domain":[{"year":2018,"month":12,"date":5,"hours":9},{"year":2018,"month":12,"date":10,"hours":1}]},
         "axis":{"values":[{"year":2018,"month":12,"date":6},{"year":2018,"month":12,"date":7},{"year":2018,"month":12,"date":8},{"year":2018,"month":12,"date":9},{"year":2018,"month":12,"date":10}],
          "labelExpr":"date(datum.value)==10 ? '10.' : timeFormat(datum.value, '%-d. %b')",
          "labelAlign":{"condition":{"test":"date(datum.value)==10","value":"right"},"value":"center"},
          "title":null,"grid":true,"ticks":true,"tickSize":5,"labelPadding":3,"labelOverlap":false}},
    "y":{"field":"value","type":"quantitative","scale":{"domain":[-10,6.7],"nice":false,"zero":false},
         "axis":{"values":[-10,-5,0,5],"title":"850 hPa Temp. (°C)","titleAnchor":"end","titlePadding":4,"ticks":false,"labelPadding":11,"grid":true}},
    "color":{"field":"key","type":"nominal","legend":null,
      "scale":{"domain":["m1","m2","m3","m4","m5","m6","m7","m8","m9","m10","m11","m12","m13","m14","m15","m16"],
               "range":["#2ecc40","#1fa05a","#21b39b","#2b8fd6","#3aa8e8","#f39c12","#f0c419","#e06020","#c0392b","#17a589","#7ed321","#2e6fd0","#a0d030","#d4a017","#48c9b0","#3cd070"]}}}},
  {"mark":{"type":"line","strokeWidth":3,"color":"#2ee62e","clip":true},
   "encoding":{"x":{"field":"t","type":"temporal","axis":null},"y":{"field":"g","type":"quantitative","axis":null}}},
  {"mark":{"type":"line","strokeWidth":3,"color":"white","clip":true},
   "encoding":{"x":{"field":"t","type":"temporal","axis":null},"y":{"field":"w","type":"quantitative","axis":null}}},
  {"mark":{"type":"line","strokeWidth":3,"color":"#e8413c","clip":true},
   "encoding":{"x":{"field":"t","type":"temporal","axis":{"orient":"bottom","offset":20,"domain":true,"labels":false,"ticks":false,"grid":false,"title":null}},
               "y":{"field":"r","type":"quantitative","axis":{"orient":"left","offset":51,"domain":true,"labels":false,"ticks":false,"grid":false,"title":null}}}},
  {"data":{"name":"circ"},"transform":[{"filter":"datum.c==='ALESSANDRIA'"}],
   "mark":{"type":"point","shape":"circle","filled":false,"size":5400,"stroke":"#1414f0","strokeWidth":7,"opacity":1},
   "encoding":{"x":{"field":"t","type":"temporal","axis":null},"y":{"field":"v","type":"quantitative","axis":null}}},
  {"data":{"values":[{}]},"mark":{"type":"text"},
   "encoding":{"x":{"datum":{"year":2018,"month":12,"date":5,"hours":12,"minutes":45},"type":"temporal","axis":null},"y":{"datum":4.82,"type":"quantitative","axis":null},"text":{"value":"ALESSANDRIA"}}}
 ]},
{"width":305,"height":215,"data":{"name":"BERGAMO"},
 "resolve":{"axis":{"x":"independent","y":"independent"}},
 "layer":[
  {"transform":[{"fold":["m1","m2","m3","m4","m5","m6","m7","m8","m9","m10","m11","m12","m13","m14","m15","m16"]}],
   "mark":{"type":"line","strokeWidth":1.2,"clip":true},
   "encoding":{
    "x":{"field":"t","type":"temporal","scale":{"domain":[{"year":2018,"month":12,"date":5,"hours":9},{"year":2018,"month":12,"date":10,"hours":1}]},
         "axis":{"values":[{"year":2018,"month":12,"date":6},{"year":2018,"month":12,"date":7},{"year":2018,"month":12,"date":8},{"year":2018,"month":12,"date":9},{"year":2018,"month":12,"date":10}],
          "labelExpr":"date(datum.value)==10 ? '10.' : timeFormat(datum.value, '%-d. %b')",
          "labelAlign":{"condition":{"test":"date(datum.value)==10","value":"right"},"value":"center"},
          "title":null,"grid":true,"ticks":true,"tickSize":5,"labelPadding":3,"labelOverlap":false}},
    "y":{"field":"value","type":"quantitative","scale":{"domain":[-10,6.1],"nice":false,"zero":false},
         "axis":{"values":[-10,-5,0,5],"title":"850 hPa Temp. (°C)","titleAnchor":"end","titlePadding":4,"ticks":false,"labelPadding":11,"grid":true}},
    "color":{"field":"key","type":"nominal","legend":null,
      "scale":{"domain":["m1","m2","m3","m4","m5","m6","m7","m8","m9","m10","m11","m12","m13","m14","m15","m16"],
               "range":["#2ecc40","#1fa05a","#21b39b","#2b8fd6","#3aa8e8","#f39c12","#f0c419","#e06020","#c0392b","#17a589","#7ed321","#2e6fd0","#a0d030","#d4a017","#48c9b0","#3cd070"]}}}},
  {"mark":{"type":"line","strokeWidth":3,"color":"#2ee62e","clip":true},
   "encoding":{"x":{"field":"t","type":"temporal","axis":null},"y":{"field":"g","type":"quantitative","axis":null}}},
  {"mark":{"type":"line","strokeWidth":3,"color":"white","clip":true},
   "encoding":{"x":{"field":"t","type":"temporal","axis":null},"y":{"field":"w","type":"quantitative","axis":null}}},
  {"mark":{"type":"line","strokeWidth":3,"color":"#e8413c","clip":true},
   "encoding":{"x":{"field":"t","type":"temporal","axis":{"orient":"bottom","offset":20,"domain":true,"labels":false,"ticks":false,"grid":false,"title":null}},
               "y":{"field":"r","type":"quantitative","axis":{"orient":"left","offset":52,"domain":true,"labels":false,"ticks":false,"grid":false,"title":null}}}},
  {"data":{"name":"circ"},"transform":[{"filter":"datum.c==='BERGAMO'"}],
   "mark":{"type":"point","shape":"circle","filled":false,"size":5400,"stroke":"#1414f0","strokeWidth":7,"opacity":1},
   "encoding":{"x":{"field":"t","type":"temporal","axis":null},"y":{"field":"v","type":"quantitative","axis":null}}},
  {"data":{"values":[{}]},"mark":{"type":"text"},
   "encoding":{"x":{"datum":{"year":2018,"month":12,"date":5,"hours":13,"minutes":45},"type":"temporal","axis":null},"y":{"datum":4.47,"type":"quantitative","axis":null},"text":{"value":"BERGAMO"}}}
 ]}
],"spacing":9}
],
"spacing":8
}
